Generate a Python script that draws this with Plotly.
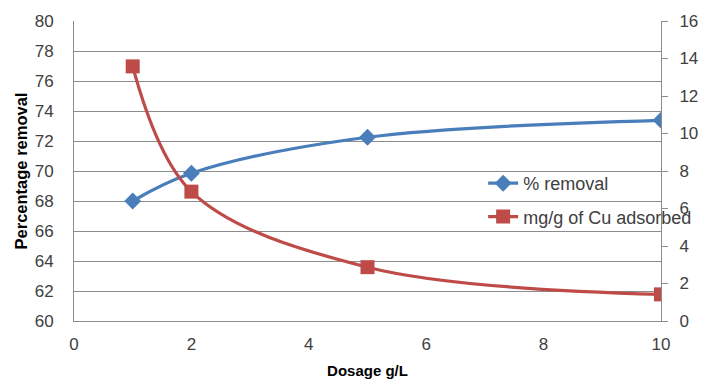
import plotly.graph_objects as go

dosage = [1, 2, 5, 10]
pct_removal = [68.0, 69.85, 72.25, 73.38]
mg_per_g = [13.58, 6.9, 2.87, 1.42]

x_ticks = [0, 2, 4, 6, 8, 10]
left_ticks = [60, 62, 64, 66, 68, 70, 72, 74, 76, 78, 80]
right_ticks = [0, 2, 4, 6, 8, 10, 12, 14, 16]

BLUE = "#4A7EBB"
RED = "#BE4B48"
GRID = "#8C8C8C"
TXT = "#404040"
FONT = "Liberation Sans"

fig = go.Figure()
fig.add_trace(go.Scatter(
    x=dosage, y=pct_removal, name="% removal", mode="lines+markers",
    line=dict(color=BLUE, width=3.2, shape="spline", smoothing=1),
    marker=dict(symbol="diamond", size=13, color=BLUE),
    legendgroup="a", yaxis="y"))
fig.add_trace(go.Scatter(
    x=dosage, y=mg_per_g, name="mg/g of Cu adsorbed", mode="lines+markers",
    line=dict(color=RED, width=3.2, shape="spline", smoothing=1),
    marker=dict(symbol="square", size=14, color=RED),
    legendgroup="b", yaxis="y2"))

fig.update_layout(
    width=702, height=386,
    margin=dict(l=74, r=41, t=21, b=65, autoexpand=False),
    paper_bgcolor="white", plot_bgcolor="white",
    font=dict(family=FONT, color=TXT, size=17),
    xaxis=dict(range=[0, 10], tickvals=x_ticks, showgrid=False, zeroline=False,
               showline=True, linecolor=GRID, linewidth=1, ticks="",
               ticklabelstandoff=8, automargin=False,
               tickfont=dict(size=17, color=TXT),
               title=dict(text="<b>Dosage g/L</b>", font=dict(size=15, color="#000000"),
                          standoff=12)),
    yaxis=dict(range=[60, 80], tickvals=left_ticks, showgrid=True, gridcolor=GRID,
               gridwidth=1, zeroline=False, showline=True, linecolor=GRID, ticks="",
               ticklabelstandoff=16, automargin=False,
               tickfont=dict(size=17, color=TXT),
               title=dict(text="<b>Percentage removal</b>", font=dict(size=16.5, color="#000000"),
                          standoff=2)),
    yaxis2=dict(range=[0, 16], tickvals=right_ticks, overlaying="y", side="right",
                showgrid=False, zeroline=False, showline=True, linecolor=GRID,
                ticks="outside", ticklen=6, tickcolor=GRID,
                ticklabelstandoff=8, automargin=False,
                tickfont=dict(size=17, color=TXT)),
    showlegend=True,
    legend=dict(x=0.697, y=0.52, xanchor="left", yanchor="top",
                bgcolor="rgba(0,0,0,0)", font=dict(size=18, color=TXT),
                tracegroupgap=7, itemwidth=30),
)

fig.write_html("out.html")
